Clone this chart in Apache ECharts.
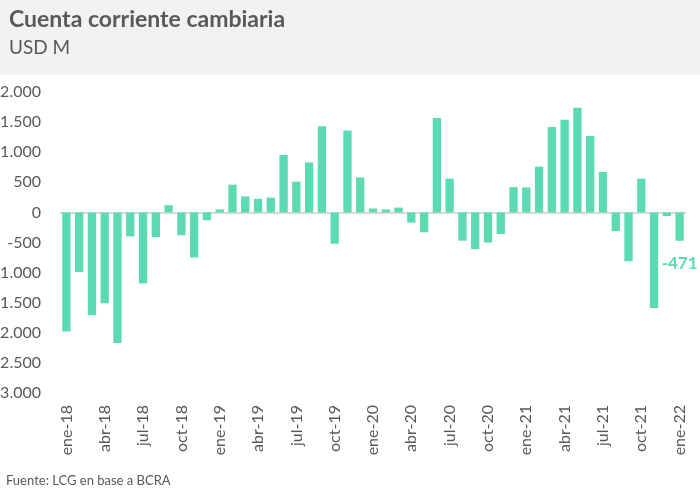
<!DOCTYPE html>
<html><head><meta charset="utf-8">
<script src="https://cdn.jsdelivr.net/npm/echarts@6/dist/echarts.min.js"></script>
<style>html,body{margin:0;padding:0;background:#fff}#c{width:700px;height:498px}</style>
</head><body><div id="c"></div>
<script>
var categories = ['ene-18','feb-18','mar-18','abr-18','may-18','jun-18','jul-18','ago-18','sep-18','oct-18','nov-18','dic-18',
'ene-19','feb-19','mar-19','abr-19','may-19','jun-19','jul-19','ago-19','sep-19','oct-19','nov-19','dic-19',
'ene-20','feb-20','mar-20','abr-20','may-20','jun-20','jul-20','ago-20','sep-20','oct-20','nov-20','dic-20',
'ene-21','feb-21','mar-21','abr-21','may-21','jun-21','jul-21','ago-21','sep-21','oct-21','nov-21','dic-21',
'ene-22'];
var values = [-1980,-990,-1710,-1510,-2170,-400,-1180,-410,120,-380,-750,-130,
50,460,265,225,245,955,510,830,1430,-520,1360,580,
65,50,80,-170,-330,1570,560,-470,-610,-500,-360,420,
415,760,1420,1540,1740,1270,670,-310,-810,560,-1590,-60,
-471];
var yTicks = {min:-3000, max:2000, interval:500};
var titleText = 'Cuenta corriente cambiaria';
var subtitleText = 'USD M';
var sourceText = 'Fuente: LCG en base a BCRA';

var FONT = 'Lato';
var GREY = '#595959';
var BAR = '#5cdab4';
function fmt(v){
  var s = Math.abs(v).toString();
  s = s.replace(/\B(?=(\d{3})+(?!\d))/g, '.');
  return (v < 0 ? '-' : '') + s;
}
var chart = echarts.init(document.getElementById('c'), null, {renderer:'canvas'});
var data = values.map(function(v, i){
  if (i === values.length - 1) {
    return {value: v, label: {show: true, position: 'bottom', distance: 14, formatter: fmt(v),
      color: BAR, fontWeight: 'bold', fontSize: 17, fontFamily: FONT}};
  }
  return v;
});
chart.setOption({
  animation: false,
  backgroundColor: '#ffffff',
  graphic: [
    {type:'rect', left:0, top:0, shape:{width:700, height:75}, style:{fill:'#f2f2f2'}, z:-1},
    {type:'text', left:9, top:8, style:{text:titleText, fill:GREY, font:'bold 23px ' + FONT}},
    {type:'text', left:9, top:38, style:{text:subtitleText, fill:GREY, font:'19px ' + FONT}},
    {type:'text', left:6, top:474, style:{text:sourceText, fill:GREY, font:'13px ' + FONT}}
  ],
  grid: {left: 60, right: 14, top: 92, bottom: 105, containLabel: false, outerBoundsMode: 'none'},
  xAxis: {
    type: 'category', data: categories,
    axisLine: {show: false, onZero: false},
    axisTick: {show: false},
    axisLabel: {
      rotate: 90, interval: 2, margin: 12, color: GREY, fontSize: 16, fontFamily: FONT
    }
  },
  yAxis: {
    type: 'value', min: yTicks.min, max: yTicks.max, interval: yTicks.interval,
    splitLine: {show: false}, axisLine: {show: false}, axisTick: {show: false},
    axisLabel: {margin: 19, color: GREY, fontSize: 16, fontFamily: FONT, formatter: fmt}
  },
  series: [{
    type: 'bar', data: data, barCategoryGap: '35%',
    itemStyle: {color: BAR},
    markLine: {
      silent: true, symbol: 'none', label: {show: false},
      lineStyle: {color: '#d9d9d9', width: 2, type: 'solid'},
      data: [{yAxis: 0}], z: 1
    }
  }]
});
</script></body></html>
